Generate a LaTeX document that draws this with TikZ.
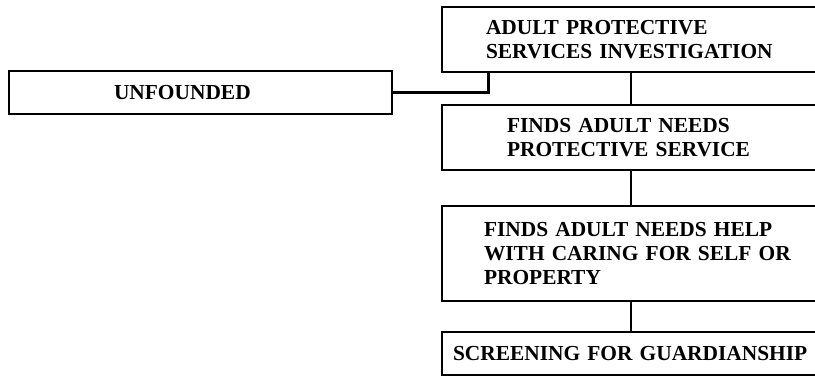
\documentclass[tikz,border=0pt]{standalone}
\usepackage{fontspec}
\setmainfont{Liberation Serif}
\usepackage{tikz}

\begin{document}
\begin{tikzpicture}[x=0.5pt, y=-0.5pt, line width=1.3pt,
  box/.style={draw, rectangle, minimum width=189pt, align=left, inner ysep=0pt,
    font=\fontsize{10.7}{12.2}\selectfont\bfseries}]
\useasboundingbox (0,0) rectangle (815,377);
\clip (0,0) rectangle (815,377);
\node[box, minimum width=191.5pt, minimum height=21.5pt, inner xsep=52.5pt, text width=86.5pt] (a) at (200.5,92.5) {\mbox{UNFOUNDED}};
\node[box, minimum height=32.5pt, inner xsep=22pt, text width=145pt] (b) at (631,39.5) {\mbox{ADULT PROTECTIVE}\\\mbox{SERVICES INVESTIGATION}};
\node[box, minimum height=32.5pt, inner xsep=32.5pt, text width=124pt] (c) at (631,137.5) {\mbox{FINDS ADULT NEEDS}\\\mbox{PROTECTIVE SERVICE}};
\node[box, minimum height=47.5pt, inner xsep=21pt, text width=147pt] (d) at (631,253.5) {\mbox{FINDS ADULT NEEDS HELP}\\\mbox{WITH CARING FOR SELF OR}\\\mbox{PROPERTY}};
\node[box, minimum height=21.5pt, inner xsep=5.5pt, text width=178pt] (e) at (631,353.5) {\mbox{SCREENING FOR GUARDIANSHIP}};
\draw (a.east) -| ([xshift=24pt]b.south west);
\draw (b.south) -- (c.north);
\draw (c.south) -- (d.north);
\draw (d.south) -- (e.north);
\end{tikzpicture}
\end{document}
